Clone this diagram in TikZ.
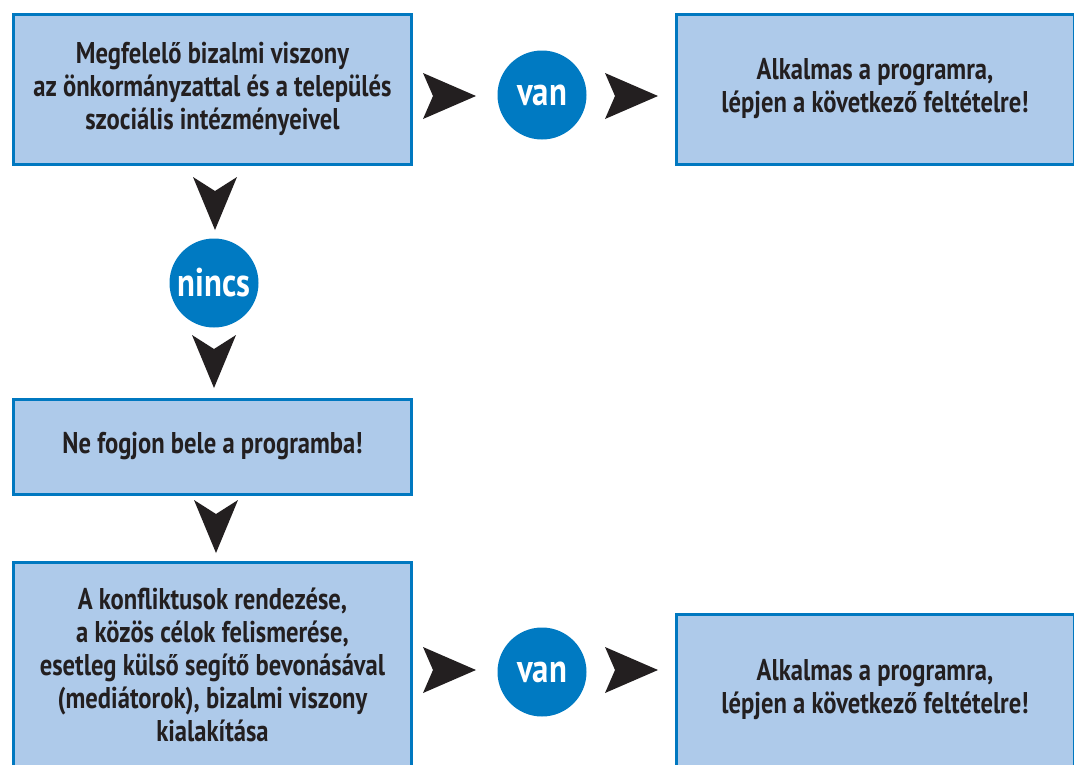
\documentclass[tikz,border=0pt]{standalone}
\usepackage{fontspec}
\setmainfont{PT Sans}[FakeStretch=0.82]
\definecolor{boxfill}{RGB}{174,202,234}
\definecolor{boxline}{RGB}{0,120,192}
\definecolor{circfill}{RGB}{0,122,194}
\definecolor{txt}{RGB}{35,31,32}
\tikzset{
  stepbox/.style={rectangle, draw=boxline, line width=3pt, fill=boxfill,
    minimum width=398pt, inner sep=0pt, align=center, text=txt,
    font=\bfseries\fontsize{30}{33}\selectfont},
  answer/.style={circle, fill=circfill, minimum size=89pt, inner sep=0pt,
    text=white, font=\bfseries\fontsize{40}{40}\selectfont},
  dart/.style={fill=txt, draw=none}
}
\newcommand{\rdart}[2]{\fill[dart] (#1,#2) -- ++(-53,-23) -- ++(10,23) -- ++(-10,23) -- cycle;}
\newcommand{\ddart}[2]{\fill[dart] (#1,#2) -- ++(-22,-53) -- ++(22,14) -- ++(22,-14) -- cycle;}
\begin{document}
\begin{tikzpicture}[x=1pt,y=-1pt]
\path[use as bounding box, clip] (0,0) rectangle (1074,764);
\fill[white] (0,0) rectangle (1074,764);
% boxes
\node[stepbox, minimum height=150pt] (b1) at (212.5,89) {Megfelelő bizalmi viszony\\az önkormányzattal és a település\\szociális intézményeivel};
\node[stepbox, minimum height=150pt] (b2) at (875,89) {Alkalmas a programra,\\lépjen a következő feltételre!};
\node[stepbox, minimum height=95pt] (b3) at (212.5,446.5) {Ne fogjon bele a programba!};
\node[stepbox, minimum height=206pt] (b4) at (212.5,665) {A konfliktusok rendezése,\\a közös célok felismerése,\\esetleg külső segítő bevonásával\\(mediátorok), bizalmi viszony\\kialakítása};
\node[stepbox, minimum height=152pt] (b5) at (875,690) {Alkalmas a programra,\\lépjen a következő feltételre!};
% answers
\node[answer] (v1) at (542,95) {van};
\node[answer] (n1) at (214,283) {nincs};
\node[answer] (v2) at (542,672) {van};
% darts
\rdart{476}{96}
\rdart{658}{96}
\ddart{215}{230}
\ddart{214}{388}
\ddart{216}{553}
\rdart{476}{670}
\rdart{658}{670}
\end{tikzpicture}
\end{document}
